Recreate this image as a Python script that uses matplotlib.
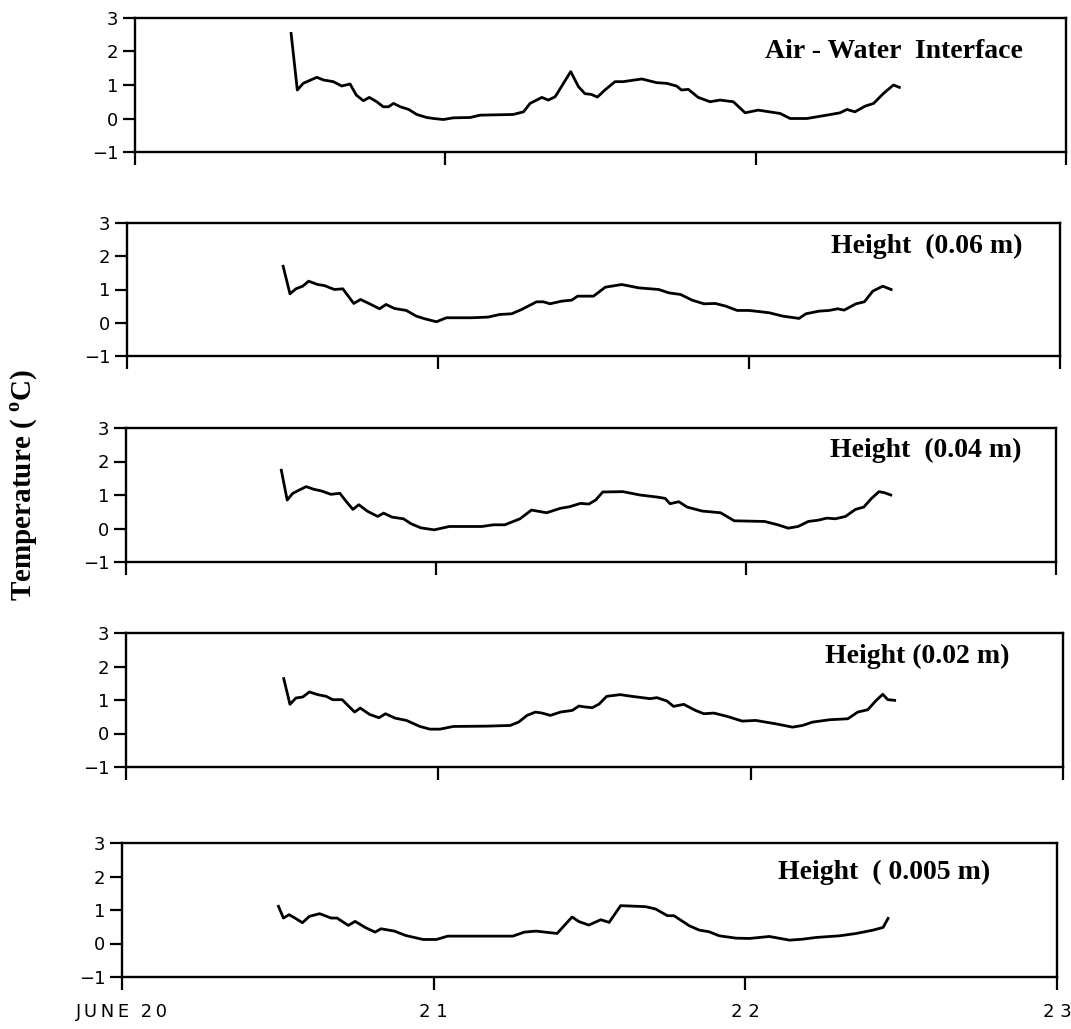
import matplotlib
matplotlib.use('Agg')
import matplotlib.pyplot as plt

# Time is in days since June 20 00:00, temperature in deg C
air_x = [0.503, 0.523, 0.542, 0.586, 0.607, 0.639, 0.666, 0.693, 0.713, 0.736, 0.755, 0.779, 0.800,
         0.817, 0.833, 0.855, 0.882, 0.908, 0.940, 0.962, 0.994, 1.026, 1.080, 1.112, 1.219, 1.252,
         1.273, 1.311, 1.332, 1.354, 1.404, 1.429, 1.450, 1.470, 1.490, 1.514, 1.547, 1.573, 1.633,
         1.681, 1.713, 1.745, 1.761, 1.783, 1.815, 1.853, 1.885, 1.928, 1.966, 2.008, 2.079, 2.111,
         2.165, 2.229, 2.272, 2.294, 2.320, 2.353, 2.380, 2.412, 2.444, 2.463]
air_t = [2.54, 0.85, 1.05, 1.23, 1.15, 1.10, 0.97, 1.03, 0.70, 0.53, 0.63, 0.50, 0.35,
         0.35, 0.45, 0.35, 0.27, 0.12, 0.03, 0.00, -0.03, 0.02, 0.03, 0.10, 0.12, 0.20,
         0.45, 0.63, 0.55, 0.65, 1.40, 0.95, 0.74, 0.72, 0.64, 0.85, 1.10, 1.10, 1.18,
         1.07, 1.05, 0.97, 0.85, 0.87, 0.63, 0.50, 0.55, 0.50, 0.17, 0.25, 0.15, 0.00,
         0.00, 0.10, 0.17, 0.27, 0.20, 0.37, 0.45, 0.75, 1.00, 0.93]

h06_x = [0.502, 0.524, 0.543, 0.565, 0.584, 0.613, 0.634, 0.667, 0.694, 0.729, 0.751, 0.780, 0.812,
         0.833, 0.860, 0.898, 0.930, 0.957, 0.995, 1.027, 1.108, 1.161, 1.199, 1.237, 1.269, 1.317,
         1.339, 1.360, 1.398, 1.430, 1.449, 1.473, 1.500, 1.538, 1.591, 1.645, 1.710, 1.742, 1.780,
         1.817, 1.855, 1.892, 1.925, 1.962, 2.000, 2.038, 2.065, 2.108, 2.161, 2.183, 2.226, 2.258,
         2.285, 2.306, 2.344, 2.371, 2.398, 2.430, 2.457]
h06_t = [1.70, 0.87, 1.02, 1.10, 1.25, 1.15, 1.12, 1.00, 1.02, 0.58, 0.70, 0.57, 0.42,
         0.55, 0.43, 0.37, 0.20, 0.12, 0.03, 0.15, 0.15, 0.17, 0.25, 0.27, 0.40, 0.63,
         0.63, 0.57, 0.65, 0.68, 0.80, 0.80, 0.80, 1.07, 1.15, 1.05, 1.00, 0.90, 0.85,
         0.68, 0.57, 0.58, 0.50, 0.37, 0.37, 0.33, 0.30, 0.20, 0.13, 0.27, 0.35, 0.37,
         0.42, 0.38, 0.57, 0.63, 0.95, 1.10, 1.00]

h04_x = [0.501, 0.520, 0.538, 0.581, 0.606, 0.631, 0.661, 0.690, 0.711, 0.732, 0.751, 0.778, 0.812,
         0.831, 0.858, 0.895, 0.920, 0.951, 0.994, 1.043, 1.148, 1.185, 1.222, 1.271, 1.308, 1.357,
         1.400, 1.431, 1.466, 1.493, 1.515, 1.538, 1.603, 1.658, 1.712, 1.739, 1.755, 1.783, 1.810,
         1.859, 1.918, 1.962, 2.060, 2.103, 2.136, 2.168, 2.201, 2.234, 2.261, 2.288, 2.321, 2.353,
         2.380, 2.405, 2.429, 2.446, 2.467]
h04_t = [1.74, 0.85, 1.05, 1.25, 1.17, 1.12, 1.02, 1.05, 0.80, 0.57, 0.71, 0.52, 0.36,
         0.46, 0.34, 0.29, 0.14, 0.02, -0.04, 0.06, 0.06, 0.11, 0.11, 0.29, 0.55, 0.47,
         0.60, 0.65, 0.75, 0.73, 0.85, 1.09, 1.10, 1.00, 0.94, 0.90, 0.74, 0.80, 0.64,
         0.52, 0.47, 0.23, 0.21, 0.11, 0.01, 0.06, 0.21, 0.25, 0.31, 0.29, 0.36, 0.57,
         0.64, 0.90, 1.10, 1.07, 1.00]

h02_x = [0.505, 0.525, 0.544, 0.566, 0.587, 0.614, 0.641, 0.662, 0.692, 0.732, 0.750, 0.780, 0.810,
         0.831, 0.861, 0.898, 0.941, 0.973, 1.005, 1.048, 1.155, 1.230, 1.257, 1.284, 1.311, 1.332,
         1.359, 1.391, 1.429, 1.450, 1.472, 1.493, 1.515, 1.539, 1.582, 1.619, 1.678, 1.700, 1.732,
         1.753, 1.786, 1.823, 1.850, 1.882, 1.925, 1.973, 2.016, 2.080, 2.134, 2.166, 2.198, 2.252,
         2.311, 2.343, 2.375, 2.402, 2.423, 2.439, 2.461]
h02_t = [1.64, 0.87, 1.06, 1.09, 1.24, 1.16, 1.11, 1.01, 1.01, 0.64, 0.76, 0.57, 0.47,
         0.59, 0.46, 0.39, 0.21, 0.13, 0.13, 0.21, 0.22, 0.24, 0.34, 0.54, 0.64, 0.61,
         0.54, 0.64, 0.69, 0.82, 0.79, 0.77, 0.88, 1.11, 1.16, 1.11, 1.04, 1.07, 0.97,
         0.81, 0.87, 0.69, 0.59, 0.61, 0.51, 0.37, 0.39, 0.29, 0.19, 0.24, 0.34, 0.41,
         0.44, 0.64, 0.71, 0.99, 1.17, 1.01, 0.99]

h005_x = [0.502, 0.518, 0.536, 0.555, 0.579, 0.601, 0.634, 0.671, 0.690, 0.726, 0.748, 0.782, 0.812,
          0.831, 0.874, 0.910, 0.966, 1.009, 1.045, 1.254, 1.291, 1.328, 1.396, 1.444, 1.467, 1.498,
          1.536, 1.563, 1.600, 1.680, 1.712, 1.750, 1.771, 1.820, 1.852, 1.884, 1.916, 1.970, 2.013,
          2.077, 2.142, 2.185, 2.227, 2.303, 2.356, 2.410, 2.442, 2.458]
h005_t = [1.11, 0.76, 0.86, 0.76, 0.62, 0.81, 0.89, 0.76, 0.76, 0.54, 0.66, 0.47, 0.34,
          0.44, 0.37, 0.24, 0.12, 0.12, 0.22, 0.22, 0.34, 0.37, 0.30, 0.79, 0.65, 0.55,
          0.71, 0.63, 1.13, 1.10, 1.03, 0.83, 0.83, 0.53, 0.40, 0.35, 0.23, 0.16, 0.15,
          0.21, 0.10, 0.13, 0.18, 0.23, 0.30, 0.40, 0.48, 0.75]

PANEL_LABELS = ['Air - Water  Interface', 'Height  (0.06 m)', 'Height  (0.04 m)',
                'Height (0.02 m)', 'Height  ( 0.005 m)']
YTICKS = [-1, 0, 1, 2, 3]
XTICKS = [0, 1, 2, 3]
XTICK_LABELS = ['J\u2009U\u2009N\u2009E  2\u20090', '2 1', '2 2', '2 3']

SERIES = [(air_x, air_t), (h06_x, h06_t), (h04_x, h04_t), (h02_x, h02_t), (h005_x, h005_t)]

# panel boxes in pixels (left, top, right, bottom) - the scan is a bit skewed
W, H = 1071, 1029
BOXES = [(135, 18, 1066, 152), (127, 223, 1060, 356), (126, 428, 1056, 562),
         (126, 633, 1063, 767), (122, 843, 1057, 977)]
# where the labels sit inside each panel (data coords)
LABEL_POS = [(2.86, 2.0), (2.88, 2.3), (2.89, 2.34), (2.83, 2.3), (2.785, 2.13)]

plt.rcParams['mathtext.fontset'] = 'custom'
plt.rcParams['mathtext.rm'] = 'Liberation Serif:bold'

fig = plt.figure(figsize=(W / 100, H / 100), dpi=100)

for i, ((x, t), box) in enumerate(zip(SERIES, BOXES)):
    l, top, r, b = box
    ax = fig.add_axes([l / W, 1 - b / H, (r - l) / W, (b - top) / H])
    ax.plot(x, t, color='black', lw=2.0)
    ax.set_xlim(0, 3)
    ax.set_ylim(-1, 3)
    ax.set_yticks(YTICKS)
    ax.set_xticks(XTICKS)
    if i == len(SERIES) - 1:
        ax.set_xticklabels(XTICK_LABELS)
    else:
        ax.set_xticklabels([])
    for sp in ax.spines.values():
        sp.set_linewidth(1.7)
    ax.tick_params(direction='out', length=9, width=1.6, labelsize=13, pad=3)
    ax.tick_params(axis='x', pad=10)
    lx, ly = LABEL_POS[i]
    ax.text(lx, ly, PANEL_LABELS[i], ha='right', va='center', fontsize=20,
            family='Liberation Serif', weight='bold')

fig.text(24 / W, 1 - 485 / H, r'Temperature ( $^{\mathrm{o}}$C)', rotation=90,
         ha='center', va='center', fontsize=21, family='Liberation Serif', weight='bold')

fig.savefig('out.png', dpi=100)
